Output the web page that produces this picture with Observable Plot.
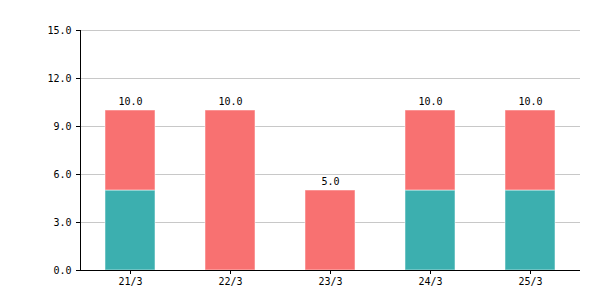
<!DOCTYPE html>
<html><head><meta charset="utf-8">
<script src="https://cdn.jsdelivr.net/npm/d3@7"></script>
<script src="https://cdn.jsdelivr.net/npm/@observablehq/plot@0.6"></script>
<style>body{margin:0;background:#fff}</style>
</head><body><div id="chart"></div>
<script>
const dates = ["21/3","22/3","23/3","24/3","25/3"];
const seriesA = [5, 0, 0, 5, 5];   // teal (bottom)
const seriesB = [5, 10, 5, 5, 5];  // red (top)
const yTicks = [0, 3, 6, 9, 12, 15];

const rows = [];
dates.forEach((d,i)=>{
  rows.push({date:d, series:"A", value:seriesA[i]});
  rows.push({date:d, series:"B", value:seriesB[i]});
});
const totals = dates.map((d,i)=>({date:d, total:seriesA[i]+seriesB[i]}));

const chart = Plot.plot({
  width: 600, height: 300,
  marginLeft: 80, marginRight: 20, marginTop: 30, marginBottom: 30,
  style: {fontFamily: "DejaVu Sans Mono", fontSize: "10px", color: "#000", background: "#fff"},
  x: {domain: dates, paddingInner: 0.5, paddingOuter: 0.25, label: null},
  y: {domain: [0, 15], ticks: yTicks, label: null, tickFormat: d3.format(".1f")},
  color: {domain: ["A","B"], range: ["#3cafaf", "#f87171"]},
  marks: [
    Plot.gridY(yTicks, {stroke: "#c8c8c8", strokeOpacity: 1}),
    Plot.barY(rows, Plot.stackY({x: "date", y: "value", fill: "series", order: ["A","B"], stroke: "#fff", strokeOpacity: 0.5, strokeWidth: 1})),
    Plot.text(totals, {x: "date", y: "total", text: d => d3.format(".1f")(d.total), dy: -9, fill: "#000"}),
    Plot.axisY({ticks: yTicks, tickFormat: d3.format(".1f"), tickSize: 4, tickPadding: 5, label: null}),
    Plot.axisX({tickSize: 4, tickPadding: 3, label: null}),
    Plot.frame({anchor: "left", stroke: "#000"}),
    Plot.ruleY([0], {stroke: "#000"})
  ]
});
document.getElementById("chart").appendChild(chart);
</script>
</body></html>
